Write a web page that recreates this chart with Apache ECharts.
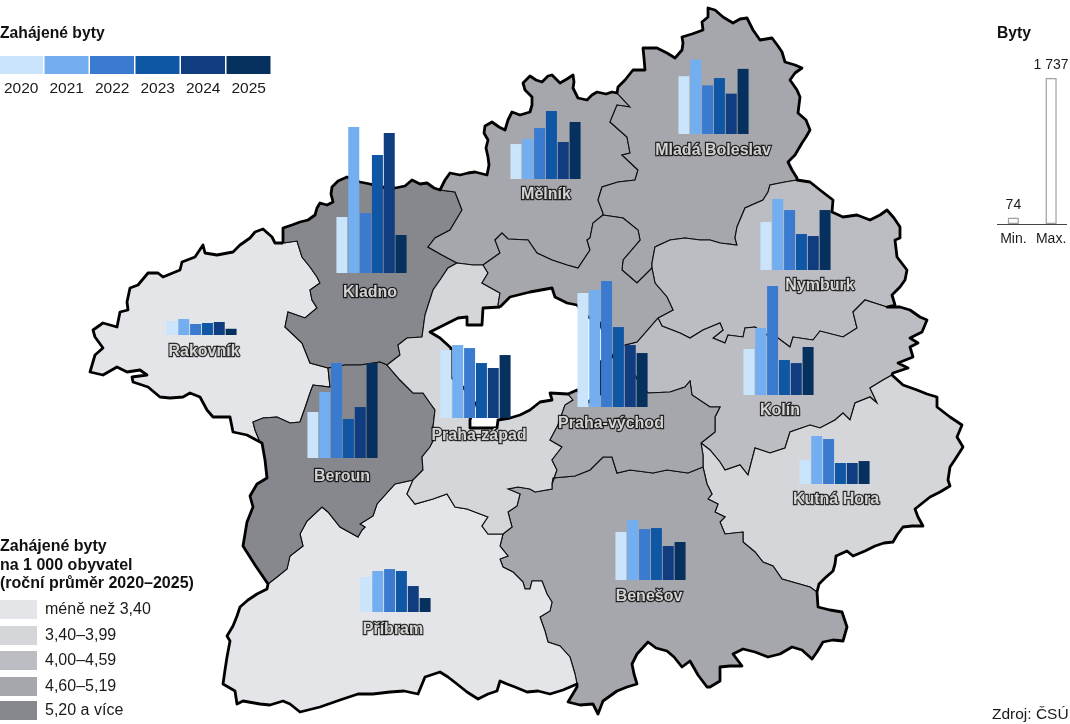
<!DOCTYPE html>
<html>
<head>
<meta charset="utf-8">
<title>Zahájené byty</title>
<style>
  html, body { margin: 0; padding: 0; background: #fff; }
  #chart { width: 1070px; height: 724px; }
</style>
</head>
<body>
<div id="chart"></div>
<script src="https://cdn.jsdelivr.net/npm/echarts@6/dist/echarts.min.js"></script>
<script>
// values
var years = ['2020', '2021', '2022', '2023', '2024', '2025'];
var yearColors = ['#c9e4fb', '#72aef0', '#3a7bd0', '#0f57a5', '#0f3d80', '#06305e'];
var classLabels = ['méně než 3,40', '3,40–3,99', '4,00–4,59', '4,60–5,19', '5,20 a více'];
var classColors = ['#e4e5e8', '#d5d6d9', '#bcbdc2', '#a6a7ac', '#87888e'];

var rakovnik = [166, 190, 131, 143, 155, 74];
var kladno = [666, 1737, 713, 1403, 1665, 452];
var melnik = [416, 476, 606, 809, 440, 678];
var boleslav = [749, 963, 630, 725, 523, 844];
var nymburk = [571, 844, 713, 428, 404, 713];
var kolin = [547, 797, 1296, 416, 380, 571];
var kutnaHora = [285, 571, 535, 250, 250, 273];
var benesov = [571, 713, 606, 618, 404, 452];
var pribram = [416, 488, 511, 488, 309, 166];
var beroun = [547, 785, 1130, 464, 606, 1130];
var prahaZapad = [809, 868, 832, 654, 595, 749];
var prahaVychod = [1356, 1391, 1498, 951, 737, 642];
var keyNames = ['Min.', 'Max.'];
var keyValues = [74, 1737];

// district, class, bars, left of bars, base of bars, label x, label y
var districts = [
  ['Rakovník', 0, rakovnik, 166, 335, 204, 352],
  ['Kladno', 4, kladno, 336, 273, 370, 293],
  ['Mělník', 3, melnik, 510, 179, 546, 195],
  ['Mladá Boleslav', 3, boleslav, 678, 134, 713, 151],
  ['Nymburk', 2, nymburk, 760, 270, 820, 286],
  ['Kolín', 2, kolin, 743, 395, 780, 411],
  ['Kutná Hora', 1, kutnaHora, 799, 484, 836, 500],
  ['Benešov', 3, benesov, 615, 580, 649, 597],
  ['Příbram', 0, pribram, 360, 612, 393, 630],
  ['Beroun', 4, beroun, 307, 458, 342, 477],
  ['Praha-západ', 1, prahaZapad, 440, 418, 479, 436],
  ['Praha-východ', 3, prahaVychod, 577, 407, 611, 424]
];

// borders, shared between neighbours
var arcs = {
  outKL: [[283,243],[283,228],[292,225],[300,222],[308,220],[315,215],[317,208],[320,203],[327,205],[333,202],[331,194],[332,187],[338,181],[347,177],[360,182],[370,184],[380,187],[395,188],[405,186],[412,180],[420,184],[427,183],[434,188],[440,190]],
  outME: [[440,190],[445,180],[450,173],[460,175],[468,173],[475,172],[487,175],[489,165],[488,157],[486,148],[488,140],[484,133],[485,126],[492,122],[499,127],[505,130],[508,120],[512,112],[520,115],[530,112],[532,105],[532,97],[525,90],[523,83],[530,76],[536,80],[542,82],[548,76],[552,75],[557,80],[560,83],[567,79],[573,75],[574,82],[573,88],[578,98],[587,100],[592,95],[597,92],[606,94],[612,92],[617,93]],
  outMB: [[617,93],[618,87],[625,80],[633,70],[645,70],[644,58],[643,48],[657,48],[667,53],[675,58],[682,50],[683,43],[682,37],[692,34],[703,30],[702,22],[708,17],[708,8],[715,10],[723,17],[733,23],[740,19],[747,18],[753,30],[760,40],[772,38],[778,46],[782,52],[785,62],[795,65],[802,68],[795,73],[790,80],[797,90],[800,97],[798,113],[806,120],[810,130],[806,137],[802,143],[795,155],[788,162],[792,170],[797,178],[797,180]],
  outNB: [[797,180],[810,182],[820,190],[833,200],[832,212],[843,217],[857,215],[870,220],[880,215],[887,210],[894,218],[900,227],[900,238],[895,240],[897,257],[907,270],[905,280],[900,287],[892,295],[895,305],[887,307]],
  outKO: [[887,307],[900,307],[910,310],[920,317],[927,320],[922,332],[910,338],[918,343],[910,347],[913,357],[898,363],[908,368],[893,373],[892,375]],
  outKH: [[892,375],[903,385],[917,390],[927,394],[937,397],[937,407],[950,417],[962,425],[957,437],[963,447],[956,458],[950,467],[948,480],[950,486],[940,492],[930,497],[915,509],[918,517],[923,526],[912,526],[903,527],[897,535],[893,542],[884,543],[875,546],[865,551],[853,556],[847,551],[836,556],[835,564],[833,571],[825,578],[819,584],[817,592]],
  outBN: [[817,592],[818,607],[830,610],[842,612],[847,627],[843,641],[833,640],[823,642],[817,652],[812,659],[802,650],[792,647],[780,654],[768,657],[755,652],[743,649],[733,654],[742,666],[730,666],[720,667],[720,681],[710,687],[707,687],[698,675],[690,661],[682,667],[674,657],[667,651],[656,648],[648,642],[637,654],[632,664],[634,674],[637,684],[627,687],[617,691],[603,701],[598,714],[593,704],[580,705],[568,702],[577,687],[577,684]],
  outPB: [[577,684],[563,690],[550,694],[538,691],[527,692],[515,687],[507,684],[500,681],[497,691],[488,694],[478,699],[467,692],[457,684],[448,677],[440,672],[425,677],[418,694],[404,691],[390,692],[373,694],[358,694],[340,700],[320,707],[300,712],[290,704],[283,701],[270,705],[260,704],[243,701],[237,704],[235,691],[223,684],[225,670],[227,657],[230,641],[227,636],[233,626],[237,616],[240,607],[248,600],[257,594],[267,589],[268,584]],
  outBE: [[268,584],[255,565],[243,546],[245,534],[247,522],[253,507],[250,496],[257,484],[267,478],[265,460],[262,443],[260,442]],
  outRA: [[260,442],[247,435],[233,432],[230,417],[213,417],[207,410],[200,397],[190,393],[183,397],[170,398],[160,397],[148,387],[133,382],[132,377],[147,375],[140,370],[127,372],[117,367],[103,375],[90,372],[95,355],[103,348],[95,337],[93,330],[103,323],[117,327],[120,312],[128,310],[127,302],[130,288],[138,285],[148,273],[158,273],[163,277],[180,270],[182,262],[195,257],[203,245],[205,253],[217,255],[233,252],[240,245],[250,238],[255,232],[263,229],[272,237],[275,243],[283,243]],
  RA_KL: [[283,243],[297,241],[302,257],[310,267],[317,277],[320,283],[310,290],[312,300],[317,308],[305,318],[288,312],[285,327],[302,343],[310,363],[328,368]],
  RA_BE: [[328,368],[330,387],[313,385],[310,393],[305,408],[300,422],[290,423],[277,417],[263,418],[253,422],[255,430],[260,442]],
  KL_BE: [[328,368],[345,365],[360,365],[380,362],[387,365]],
  KL_ME: [[440,190],[455,192],[462,210],[456,220],[450,230],[435,238],[428,247],[442,255],[457,263]],
  KL_PZ: [[387,365],[400,355],[398,345],[407,338],[422,337],[425,315],[433,290],[440,280],[448,268],[457,263]],
  ME_PZ: [[457,263],[473,265],[483,265]],
  ME_PV: [[483,265],[500,253],[495,240],[502,233],[508,239],[528,240],[537,253],[552,260],[567,265],[578,268],[590,250],[587,240],[590,238],[593,223],[603,215]],
  ME_MB: [[617,93],[630,107],[617,105],[610,122],[627,137],[630,153],[622,155],[638,170],[635,180],[618,182],[602,187],[598,200],[603,213],[603,215]],
  MB_PV: [[603,215],[623,218],[638,230],[640,240],[623,260],[622,270],[637,283],[652,268]],
  MB_NB: [[652,268],[652,263],[655,247],[670,240],[685,238],[700,240],[710,240],[720,243],[737,245],[735,238],[737,227],[745,208],[763,200],[768,192],[770,185],[785,182],[797,180]],
  NB_PV: [[652,268],[655,283],[667,297],[673,310],[658,318]],
  NB_KO: [[658,318],[662,326],[680,333],[690,338],[703,330],[720,323],[723,330],[713,338],[725,343],[728,335],[743,337],[745,328],[755,327],[767,335],[778,338],[790,347],[793,337],[813,340],[820,331],[843,337],[857,328],[853,312],[865,300],[887,307]],
  PV_KO: [[658,318],[637,342],[625,345],[630,365],[640,385],[648,393],[670,392],[685,387],[690,381],[692,395],[710,407],[720,407],[715,417],[715,432],[701,443]],
  KO_KH: [[701,443],[710,450],[720,462],[725,470],[740,465],[748,475],[755,448],[770,453],[785,448],[790,432],[810,425],[820,428],[835,420],[843,413],[850,420],[855,403],[870,397],[877,403],[870,388],[883,380],[892,375]],
  PV_KH: [[701,443],[703,455],[703,467]],
  KH_BN: [[703,467],[707,484],[712,494],[708,499],[718,504],[715,512],[725,517],[720,522],[725,534],[743,532],[743,542],[755,552],[763,562],[773,566],[782,579],[810,587],[817,592]],
  PV_BN: [[552,484],[553,478],[575,476],[590,470],[603,457],[612,457],[617,473],[630,470],[653,473],[667,470],[688,473],[703,467]],
  PV_PZ: [[568,394],[573,400],[565,405],[558,425],[550,440],[562,447],[552,460],[557,470],[552,484]],
  PZ_PV: [[483,265],[488,273],[482,283],[500,293],[498,305],[500,307]],
  prWest: [[500,307],[483,308],[482,325],[467,325],[467,317],[458,318],[448,323],[430,332],[440,338],[451,348],[451,377],[463,387],[475,403],[470,420],[470,428],[497,428],[498,420],[510,418],[520,415],[530,410],[540,402],[552,400],[550,393],[568,394]],
  prEast: [[500,307],[510,297],[530,292],[552,288],[555,297],[567,303],[577,305],[588,317],[600,323],[612,357],[600,362],[600,372],[600,394],[588,402],[577,390],[568,394]],
  PZ_BN: [[552,484],[552,489],[535,492],[530,489],[518,487],[508,489],[520,494],[517,506],[508,512],[512,527],[503,534]],
  PZ_PB: [[503,534],[488,534],[482,526],[488,517],[467,509],[455,507],[447,494],[433,499],[415,504],[407,494],[413,480]],
  BE_PZ: [[387,365],[400,380],[413,393],[423,393],[430,403],[435,410],[433,427],[435,437],[430,447],[422,457],[423,470],[413,480]],
  BE_PB: [[268,584],[277,577],[287,569],[290,556],[303,546],[300,534],[307,521],[322,507],[328,512],[340,527],[358,537],[362,530],[365,527],[360,524],[373,516],[377,504],[395,484],[413,480]],
  BN_PB: [[503,534],[500,546],[508,556],[500,559],[503,567],[513,572],[523,582],[525,589],[530,589],[532,581],[542,581],[547,594],[552,602],[550,611],[540,617],[545,631],[548,642],[560,646],[570,657],[575,674],[577,684]]
};

var shapes = {
  'Rakovník': ['outRA', 'RA_KL', 'RA_BE'],
  'Kladno': ['outKL', 'KL_ME', '-KL_PZ', '-KL_BE', '-RA_KL'],
  'Mělník': ['outME', 'ME_MB', '-ME_PV', '-ME_PZ', '-KL_ME'],
  'Mladá Boleslav': ['outMB', '-MB_NB', '-MB_PV', '-ME_MB'],
  'Nymburk': ['outNB', '-NB_KO', '-NB_PV', 'MB_NB'],
  'Kolín': ['outKO', '-KO_KH', '-PV_KO', 'NB_KO'],
  'Kutná Hora': ['outKH', '-KH_BN', '-PV_KH', 'KO_KH'],
  'Benešov': ['outBN', '-BN_PB', '-PZ_BN', 'PV_BN', 'KH_BN'],
  'Příbram': ['outPB', 'BE_PB', '-PZ_PB', 'BN_PB'],
  'Beroun': ['outBE', '-RA_BE', 'KL_BE', 'BE_PZ', '-BE_PB'],
  'Praha-západ': ['KL_PZ', 'ME_PZ', 'PZ_PV', 'prWest', 'PV_PZ', 'PZ_BN', 'PZ_PB', '-BE_PZ'],
  'Praha-východ': ['ME_PV', 'MB_PV', 'NB_PV', 'PV_KO', 'PV_KH', '-PV_BN', '-PV_PZ', '-prEast', '-PZ_PV']
};

function buildRing(parts) {
  var ring = [];
  parts.forEach(function (part) {
    var pts = part[0] === '-' ? arcs[part.slice(1)].slice().reverse() : arcs[part];
    ring = ring.concat(pts);
  });
  ring.push(ring[0]);
  return ring;
}

var features = districts.map(function (d) {
  return {
    type: 'Feature',
    properties: { name: d[0] },
    geometry: { type: 'Polygon', coordinates: [buildRing(shapes[d[0]])] }
  };
});
echarts.registerMap('stredocesky', { type: 'FeatureCollection', features: features });

var font = '"Liberation Sans", Arial, sans-serif';
var BAR_AREA = 146;   // px for the maximum, same as the key on the right
var grids = [], xAxes = [], yAxes = [], series = [];

// thick outer border and the hole of Prague
var outerRing = ['outKL', 'outME', 'outMB', 'outNB', 'outKO', 'outKH', 'outBN', 'outPB', 'outBE', 'outRA'];
var pragueRing = ['prWest', '-prEast'];
series.push({
  type: 'lines',
  coordinateSystem: 'geo',
  polyline: true,
  silent: true,
  z: 2,
  lineStyle: { color: '#000', width: 2.8, opacity: 1, join: 'round' },
  data: [{ coords: buildRing(outerRing) }, { coords: buildRing(pragueRing) }]
});

districts.forEach(function (d, i) {
  grids.push({ left: d[3], top: d[4] - BAR_AREA, width: 71, height: BAR_AREA });
  xAxes.push({ type: 'category', gridIndex: i, data: years, show: false });
  yAxes.push({ type: 'value', gridIndex: i, min: 0, max: 1737, show: false });
  series.push({
    type: 'bar',
    name: d[0],
    xAxisIndex: i,
    yAxisIndex: i,
    barWidth: 11,
    z: 5,
    silent: true,
    itemStyle: { color: function (p) { return yearColors[p.dataIndex]; } },
    data: d[2]
  });
});

// Min./Max. key
var k = districts.length;
grids.push({ left: 994.5, top: 224 - BAR_AREA, width: 78, height: BAR_AREA });
xAxes.push({
  type: 'category', gridIndex: k, data: keyNames,
  axisLine: { show: false }, axisTick: { show: false },
  axisLabel: { color: '#1a1a1a', fontFamily: font, fontSize: 14, margin: 8, interval: 0 }
});
yAxes.push({ type: 'value', gridIndex: k, min: 0, max: 1737, show: false });
series.push({
  type: 'bar',
  xAxisIndex: k,
  yAxisIndex: k,
  barWidth: 11,
  silent: true,
  itemStyle: { color: '#fff', borderColor: '#a0a0a0', borderWidth: 1.2 },
  label: {
    show: true, position: 'top', distance: 6, color: '#1a1a1a', fontFamily: font, fontSize: 14,
    formatter: function (p) { return String(p.value).replace(/(\d)(\d{3})$/, '$1\u00a0$2'); }
  },
  data: keyValues
});

// district names
series.push({
  type: 'scatter',
  coordinateSystem: 'geo',
  symbolSize: 0,
  silent: true,
  z: 20,
  label: {
    show: true, position: 'inside', color: '#fff', fontFamily: font, fontWeight: 'bold', fontSize: 16,
    textBorderColor: '#000', textBorderWidth: 2.4,
    formatter: function (p) { return p.name; }
  },
  data: districts.map(function (d) { return { name: d[0], value: [d[5], d[6]] }; })
});

// legends as plain text and boxes
var graphics = [];
function addText(x, y, text, bold, size) {
  graphics.push({
    type: 'text', left: x, top: y, z: 30, silent: true,
    style: { text: text, fill: bold ? '#111' : '#1a1a1a', fontFamily: font, fontWeight: bold ? 'bold' : 'normal', fontSize: size || 16 }
  });
}
function addBox(x, y, w, h, color) {
  graphics.push({ type: 'rect', z: 30, silent: true, shape: { x: x, y: y, width: w, height: h }, style: { fill: color } });
}
addText(0, 26, 'Zahájené byty', true, 15.7);
years.forEach(function (y, i) {
  addBox(i * 45.5 - 1, 56, 44, 18, yearColors[i]);
  addText(i * 45.5 + 4, 81, y, false, 15.5);
});
addText(0, 539, 'Zahájené byty', true);
addText(0, 558, 'na 1 000 obyvatel', true);
addText(0, 576, '(roční průměr 2020–2025)', true);
var classTops = [600, 626, 651, 677, 701];
classLabels.forEach(function (c, i) {
  addBox(0, classTops[i], 37, 19, classColors[i]);
  addText(45, classTops[i] + 2, c, false);
});
addText(997, 26, 'Byty', true, 15.7);
graphics.push({ type: 'line', z: 30, silent: true, shape: { x1: 997, y1: 224.5, x2: 1067, y2: 224.5 }, style: { stroke: '#444', lineWidth: 1 } });
addText(992, 707, 'Zdroj: ČSÚ', false, 15.5);

var chart = echarts.init(document.getElementById('chart'), null, { renderer: 'canvas' });
chart.setOption({
  animation: false,
  backgroundColor: '#fff',
  tooltip: { show: false },
  geo: {
    map: 'stredocesky',
    projection: { project: function (p) { return p; }, unproject: function (p) { return p; } },
    boundingCoords: [[0, 0], [1070, 724]],
    left: 0, top: 0, width: 1070, height: 724,
    roam: false,
    silent: true,
    label: { show: false },
    itemStyle: { borderColor: '#0d0d0d', borderWidth: 1.1, areaColor: '#ccc' },
    regions: districts.map(function (d) {
      return { name: d[0], itemStyle: { areaColor: classColors[d[1]] } };
    })
  },
  grid: grids,
  xAxis: xAxes,
  yAxis: yAxes,
  series: series,
  graphic: graphics
});
</script>
</body>
</html>
